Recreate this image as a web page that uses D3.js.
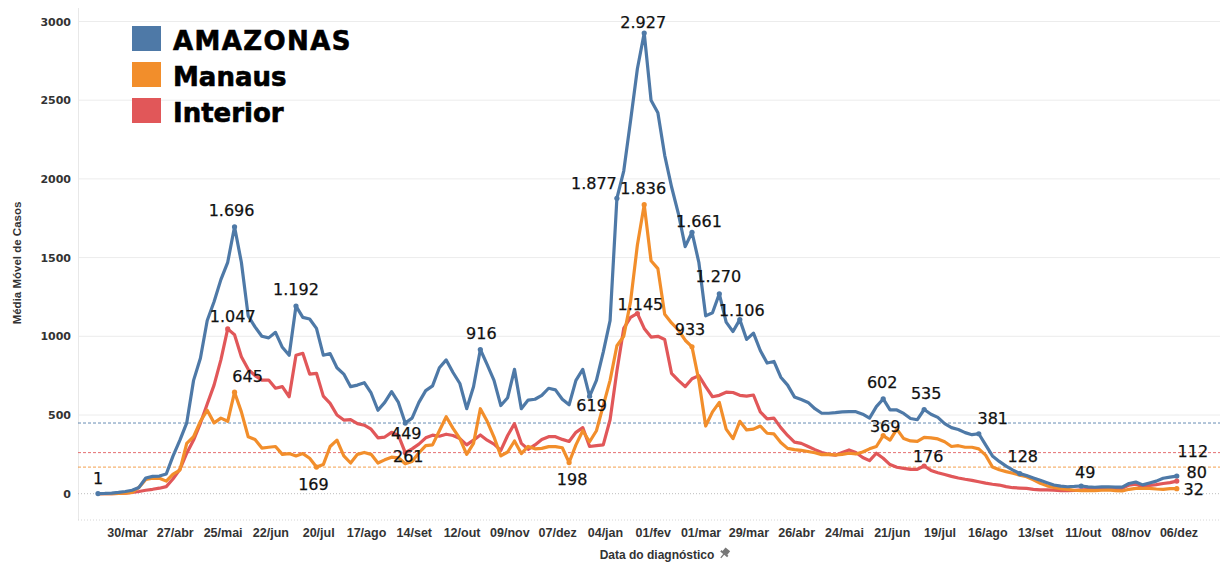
<!DOCTYPE html>
<html><head><meta charset="utf-8">
<script src="https://cdn.jsdelivr.net/npm/d3@7"></script>
<style>body{margin:0;background:#fff}svg{display:block}</style>
</head><body>
<svg id="chart" width="1224" height="562"></svg>
<script>
// ---------- DATA ----------
const dates = [
"2020-03-13","2020-03-17","2020-03-21","2020-03-25","2020-03-29","2020-04-02","2020-04-06","2020-04-10","2020-04-14","2020-04-18",
"2020-04-22","2020-04-26","2020-04-30","2020-05-04","2020-05-08","2020-05-12","2020-05-16","2020-05-20","2020-05-24","2020-05-28",
"2020-06-01","2020-06-05","2020-06-09","2020-06-13","2020-06-17","2020-06-21","2020-06-25","2020-06-29","2020-07-03","2020-07-07",
"2020-07-11","2020-07-15","2020-07-19","2020-07-23","2020-07-27","2020-07-31","2020-08-04","2020-08-08","2020-08-12","2020-08-16",
"2020-08-20","2020-08-24","2020-08-28","2020-09-01","2020-09-05","2020-09-09","2020-09-13","2020-09-17","2020-09-21","2020-09-25",
"2020-09-29","2020-10-03","2020-10-07","2020-10-11","2020-10-15","2020-10-19","2020-10-23","2020-10-27","2020-10-31","2020-11-04",
"2020-11-08","2020-11-12","2020-11-16","2020-11-20","2020-11-24","2020-11-28","2020-12-02","2020-12-06","2020-12-10","2020-12-14",
"2020-12-18","2020-12-22","2020-12-26","2020-12-30","2021-01-03","2021-01-07","2021-01-11","2021-01-15","2021-01-19","2021-01-23",
"2021-01-27","2021-01-31","2021-02-04","2021-02-08","2021-02-12","2021-02-16","2021-02-20","2021-02-24","2021-02-28","2021-03-04",
"2021-03-08","2021-03-12","2021-03-16","2021-03-20","2021-03-24","2021-03-28","2021-04-01","2021-04-05","2021-04-09","2021-04-13",
"2021-04-17","2021-04-21","2021-04-25","2021-04-29","2021-05-03","2021-05-07","2021-05-11","2021-05-15","2021-05-19","2021-05-23",
"2021-05-27","2021-05-31","2021-06-04","2021-06-08","2021-06-12","2021-06-16","2021-06-20","2021-06-24","2021-06-28","2021-07-02",
"2021-07-06","2021-07-10","2021-07-14","2021-07-18","2021-07-22","2021-07-26","2021-07-30","2021-08-03","2021-08-07","2021-08-11",
"2021-08-15","2021-08-19","2021-08-23","2021-08-27","2021-08-31","2021-09-04","2021-09-08","2021-09-12","2021-09-16","2021-09-20",
"2021-09-24","2021-09-28","2021-10-02","2021-10-06","2021-10-10","2021-10-14","2021-10-18","2021-10-22","2021-10-26","2021-10-30",
"2021-11-03","2021-11-07","2021-11-11","2021-11-15","2021-11-19","2021-11-23","2021-11-27","2021-12-01","2021-12-05"];

const amazonas = [
1,2,4,8,14,22,40,100,110,112,
125,240,340,450,720,860,1100,1220,1360,1470,
1696,1470,1130,1060,1000,990,1025,930,880,1192,
1120,1110,1050,880,890,800,760,680,690,705,
640,530,580,648,580,449,480,580,655,685,
800,850,770,700,540,680,916,820,720,560,
610,790,540,595,600,625,670,660,600,565,
720,790,619,720,900,1100,1877,2050,2370,2700,
2927,2500,2420,2150,1950,1780,1570,1661,1470,1130,
1150,1270,1090,1030,1106,980,1020,910,830,840,
740,690,615,598,580,540,511,511,515,520,
522,521,505,480,553,602,532,532,510,478,
470,535,505,485,445,420,408,388,375,381,
310,240,205,175,150,128,115,100,86,70,
55,48,44,46,49,43,41,43,44,42,
42,65,74,56,68,80,98,105,112];

const manaus = [
0,0,1,2,4,8,40,90,98,98,
80,125,150,320,362,460,530,450,480,460,
645,520,362,345,290,295,300,250,255,240,
255,225,169,185,300,340,240,195,250,262,
250,195,215,232,228,190,205,260,305,310,
400,489,415,350,250,320,540,460,360,240,
265,335,255,300,285,288,299,299,292,198,
310,400,330,400,560,720,940,1000,1220,1580,
1836,1480,1430,1140,1085,1040,975,933,720,430,
520,580,410,350,460,405,410,430,384,380,
325,288,280,275,268,260,248,250,246,250,
257,252,265,285,300,369,340,410,350,335,
332,358,355,348,330,300,305,295,295,285,
245,170,152,140,130,118,108,88,66,50,
40,32,28,22,19,19,20,22,24,20,
17,28,34,33,34,30,28,32,32];

const interior = [
0,0,1,2,4,8,14,22,28,35,
45,95,155,257,341,447,570,690,850,1047,
1010,870,790,750,722,722,670,680,616,880,
892,760,765,620,574,500,468,470,445,435,
410,355,360,390,370,261,285,315,355,372,
365,378,370,350,310,340,373,340,315,275,
370,445,320,282,310,345,362,362,345,332,
390,420,300,305,310,470,780,1050,1120,1145,
1050,995,1000,980,765,720,680,730,750,680,
616,625,645,643,625,620,627,520,475,480,
420,370,328,320,300,280,262,250,245,262,
278,262,230,210,257,225,185,168,161,155,
155,176,148,133,122,110,100,92,85,76,
67,60,55,45,38,36,34,28,24,24,
23,20,19,21,24,26,28,28,28,30,
34,55,60,44,52,58,65,70,80];

const seriesNames = ["AMAZONAS", "Manaus", "Interior"];
const seriesColors = ["#4e79a7", "#f28e2b", "#e15759"];
// reference lines (minimum values marked)
const refValues = [449, 169, 261];

const yTicks = [0, 500, 1000, 1500, 2000, 2500, 3000];
const tickDates = ["2020-03-30","2020-04-27","2020-05-25","2020-06-22","2020-07-20","2020-08-17","2020-09-14","2020-10-12","2020-11-09","2020-12-07",
"2021-01-04","2021-02-01","2021-03-01","2021-03-29","2021-04-26","2021-05-24","2021-06-21","2021-07-19","2021-08-16","2021-09-13","2021-10-11","2021-11-08","2021-12-06"];
const tickLabels = ["30/mar","27/abr","25/mai","22/jun","20/jul","17/ago","14/set","12/out","09/nov","07/dez",
"04/jan","01/fev","01/mar","29/mar","26/abr","24/mai","21/jun","19/jul","16/ago","13/set","11/out","08/nov","06/dez"];

const labelSeries = ["AMAZONAS","AMAZONAS","Interior","Manaus","AMAZONAS","Manaus","AMAZONAS","Interior","AMAZONAS","Manaus",
"AMAZONAS","AMAZONAS","AMAZONAS","Manaus","Interior","Manaus","AMAZONAS","AMAZONAS","AMAZONAS","AMAZONAS",
"Manaus","AMAZONAS","Interior","AMAZONAS","AMAZONAS","AMAZONAS","AMAZONAS","Interior","Manaus"];
const labelDates = ["2020-03-13","2020-06-01","2020-05-28","2020-06-01","2020-07-07","2020-07-19","2020-09-09","2020-09-09","2020-10-23","2020-12-14",
"2020-12-26","2021-01-11","2021-01-27","2021-01-27","2021-01-23","2021-02-24","2021-02-24","2021-03-12","2021-03-24","2021-06-16",
"2021-06-16","2021-07-10","2021-07-10","2021-08-11","2021-09-04","2021-10-10","2021-12-05","2021-12-05","2021-12-05"];

// ---------- STYLE / LAYOUT ----------
const labelOffsets = [[0,-15],[-3,-16],[5,-12],[13,-16],[0,-17],[-3,17],[1,10],[3,4],[1,-16],[3,17],
[2,9],[-23,-15],[-1,-10],[-1,-16],[3,-9],[-2,-17],[7,-11],[-1,-17],[2,-9],[-1,-16],
[2,-9],[2,-16],[4,-9],[14,-15],[3,-17],[4,-13],[16,-25],[20,-9],[17,1]];

const plotLeft = 78, plotRight = 1220, plotTop = 8, plotBottom = 520;

const parse = d3.utcParse("%Y-%m-%d");
const x = d3.scaleUtc().domain([parse("2020-03-30"), parse("2021-12-06")]).range([127, 1178.5]);
const y = d3.scaleLinear().domain([0, 3000]).range([493.7, 21.5]);

const locale = d3.formatLocale({decimal: ",", thousands: ".", grouping: [3], currency: ["R$", ""]});
const fmt = locale.format(",d");

const svg = d3.select("#chart");
const seriesData = {AMAZONAS: amazonas, Manaus: manaus, Interior: interior};
const parsedDates = dates.map(parse);

// gridlines
svg.append("g").selectAll("line").data(yTicks.filter(v => v > 0)).join("line")
  .attr("x1", plotLeft).attr("x2", plotRight)
  .attr("y1", d => y(d)).attr("y2", d => y(d))
  .attr("stroke", "#ececec").attr("stroke-width", 1);

// left border
svg.append("line").attr("x1", plotLeft + 0.5).attr("x2", plotLeft + 0.5)
  .attr("y1", plotTop).attr("y2", plotBottom).attr("stroke", "#e8e8e8");

// zero line (dotted)
svg.append("line").attr("x1", plotLeft).attr("x2", plotRight)
  .attr("y1", y(0)).attr("y2", y(0))
  .attr("stroke", "#bdbdbd").attr("stroke-dasharray", "1,2");

// bottom dotted axis line
svg.append("line").attr("x1", plotLeft).attr("x2", plotRight)
  .attr("y1", plotBottom).attr("y2", plotBottom)
  .attr("stroke", "#d6d6d6").attr("stroke-dasharray", "1,2");

// reference lines
svg.append("g").selectAll("line").data(refValues).join("line")
  .attr("x1", plotLeft).attr("x2", plotRight)
  .attr("y1", d => y(d)).attr("y2", d => y(d))
  .attr("stroke", (d, i) => seriesColors[i])
  .attr("stroke-opacity", 0.85)
  .attr("stroke-width", 1)
  .attr("stroke-dasharray", "3,2");

// y axis
const yAxis = svg.append("g").attr("transform", `translate(${plotLeft},0)`)
  .call(d3.axisLeft(y).tickValues(yTicks).tickSize(0).tickPadding(7).tickFormat(d3.format("d")));
yAxis.select(".domain").remove();
yAxis.selectAll("text").attr("font-family", "DejaVu Sans, sans-serif").attr("font-weight", "bold")
  .attr("font-size", 11).attr("fill", "#333");

// x axis
const xAxis = svg.append("g").attr("transform", `translate(0,${plotBottom})`)
  .call(d3.axisBottom(x).tickValues(tickDates.map(parse)).tickSize(0).tickPadding(8)
    .tickFormat((d, i) => tickLabels[i]));
xAxis.select(".domain").remove();
xAxis.selectAll("text").attr("font-family", "Liberation Sans, Arial, sans-serif").attr("font-weight", "bold")
  .attr("font-size", 12.5).attr("fill", "#333");

// axis titles
svg.append("text").attr("transform", "translate(21,263) rotate(-90)")
  .attr("text-anchor", "middle").attr("font-family", "Liberation Sans, Arial, sans-serif")
  .attr("font-weight", "bold").attr("font-size", 11.5).attr("fill", "#333")
  .text("Média Móvel de Casos");
svg.append("text").attr("x", 657).attr("y", 559)
  .attr("text-anchor", "middle").attr("font-family", "Liberation Sans, Arial, sans-serif")
  .attr("font-weight", "bold").attr("font-size", 12).attr("fill", "#333")
  .text("Data do diagnóstico");
// pin icon
const pin = svg.append("g").attr("transform", "translate(724,554) rotate(40)");
pin.append("rect").attr("x", -3).attr("y", -6).attr("width", 6).attr("height", 5).attr("fill", "#777");
pin.append("rect").attr("x", -4.5).attr("y", -1.5).attr("width", 9).attr("height", 2).attr("fill", "#777");
pin.append("line").attr("x1", 0).attr("x2", 0).attr("y1", 0).attr("y2", 5).attr("stroke", "#777").attr("stroke-width", 1.2);

// series lines (draw Interior, Manaus, then AMAZONAS on top)
const line = d3.line().x((d, i) => x(parsedDates[i])).y(d => y(d)).curve(d3.curveLinear);
[2, 1, 0].forEach(si => {
  svg.append("path").datum(seriesData[seriesNames[si]])
    .attr("d", line).attr("fill", "none")
    .attr("stroke", seriesColors[si]).attr("stroke-width", 3.2)
    .attr("stroke-linejoin", "round").attr("stroke-linecap", "round");
});

// labeled points + labels
const labels = labelSeries.map((s, i) => {
  const idx = dates.indexOf(labelDates[i]);
  const v = seriesData[s][idx];
  return {s, date: parse(labelDates[i]), v, off: labelOffsets[i], color: seriesColors[seriesNames.indexOf(s)]};
});
svg.append("g").selectAll("circle").data(labels).join("circle")
  .attr("cx", d => x(d.date)).attr("cy", d => y(d.v)).attr("r", 2.6)
  .attr("fill", d => d.color);
svg.append("g").selectAll("text").data(labels).join("text")
  .attr("x", d => x(d.date) + d.off[0]).attr("y", d => y(d.v) + d.off[1])
  .attr("text-anchor", "middle").attr("dominant-baseline", "central")
  .attr("font-family", "DejaVu Sans, sans-serif").attr("font-size", 16).attr("fill", "#111")
  .attr("stroke", "#111").attr("stroke-width", 0.25)
  .text(d => fmt(d.v));

// legend
const legend = svg.append("g").selectAll("g").data(seriesNames).join("g")
  .attr("transform", (d, i) => `translate(132,${26 + i * 36})`);
legend.append("rect").attr("width", 29).attr("height", 25).attr("fill", (d, i) => seriesColors[i]);
legend.append("text").attr("x", 41).attr("y", 23.5)
  .attr("font-family", "DejaVu Sans, sans-serif").attr("font-weight", "bold").attr("font-size", 26)
  .attr("letter-spacing", (d, i) => i === 0 ? 1.4 : 0)
  .attr("fill", "#000").attr("stroke", "#000").attr("stroke-width", 0.6)
  .text(d => d);
</script>
</body></html>
